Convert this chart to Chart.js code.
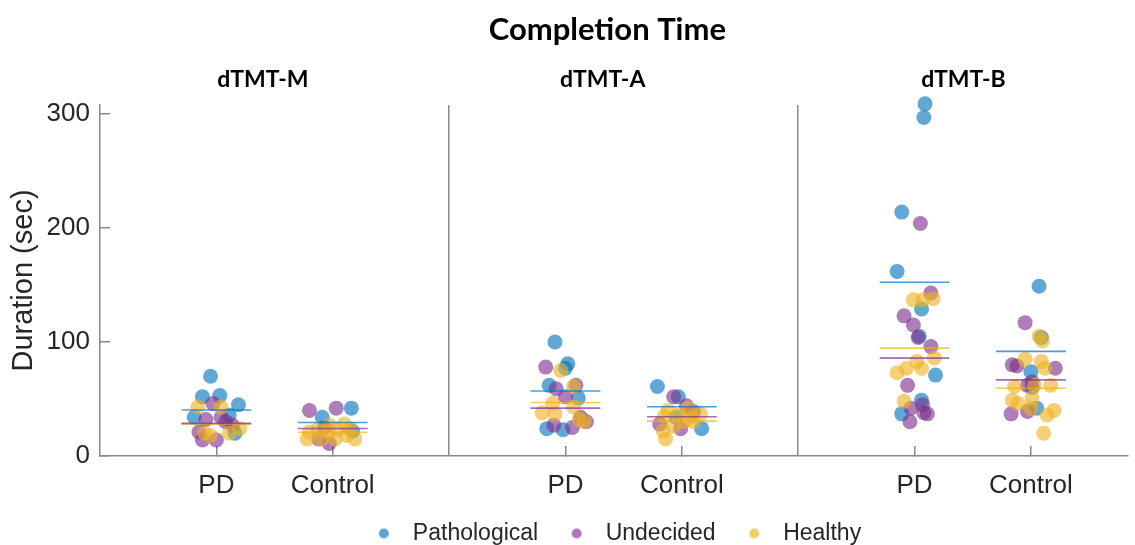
<!DOCTYPE html>
<html>
<head>
<meta charset="utf-8">
<script src="https://cdn.jsdelivr.net/npm/chart.js@4/dist/chart.umd.min.js"></script>
<style>
  body { margin: 0; background: #fff; }
  canvas { display: block; }
</style>
</head>
<body>
<canvas id="chart" width="1135" height="545"></canvas>
<script>
// task panels and the two groups inside each
const panels = ['dTMT-M', 'dTMT-A', 'dTMT-B'];
const groups = ['PD', 'Control'];
const classes = ['Pathological', 'Undecided', 'Healthy'];
const mainTitle = 'Completion Time';

// x slot of each group (panel separators sit on 3 and 6)
const groupX = [1, 2, 4, 5, 7, 8];
const xTickValues = [1, 2, 3, 4, 5, 6, 7, 8];
const xTickLabels = ['PD', 'Control', '', 'PD', 'Control', '', 'PD', 'Control'];
const yTickValues = [0, 100, 200, 300];

// [jitter, seconds] per subject
const mPdPath = [[-0.05, 70], [-0.12, 52], [0.03, 53], [0.19, 45], [-0.19, 34], [0.11, 36], [0.16, 20]];
const mPdUnd = [[-0.03, 46], [-0.09, 32], [0.04, 34], [-0.15, 21], [-0.12, 14], [0, 14], [0.14, 27], [0.08, 30]];
const mPdHea = [[-0.16, 43], [0.04, 43], [-0.10, 20], [0.11, 20], [0.2, 24], [-0.05, 18]];
const mCtlPath = [[-0.09, 34], [0.16, 42], [0.17, 22]];
const mCtlUnd = [[-0.2, 40], [0.03, 42], [-0.07, 25], [-0.03, 11], [-0.12, 15]];
const mCtlHea = [[-0.2, 21], [-0.22, 15], [-0.13, 23], [-0.04, 21], [0.04, 23], [0.1, 28], [0.12, 18],
                 [0.02, 15], [0.19, 15], [-0.1, 15], [-0.03, 27], [0.15, 24]];

const aPdPath = [[-0.09, 100], [0.02, 81], [0, 77], [-0.14, 62], [0.11, 51], [-0.16, 24], [-0.02, 23]];
const aPdUnd = [[-0.17, 78], [-0.08, 59], [0.09, 62], [0, 52], [-0.1, 27], [0.06, 25], [0.18, 30], [0.13, 34]];
const aPdHea = [[-0.04, 75], [0.07, 61], [-0.11, 46], [-0.2, 38], [-0.09, 37], [0.07, 43], [0.12, 32], [0.16, 30]];
const aCtlPath = [[-0.21, 61], [-0.03, 52], [0.17, 24], [-0.05, 34]];
const aCtlUnd = [[-0.07, 52], [0.1, 39], [-0.19, 28], [-0.01, 24], [0.04, 44]];
const aCtlHea = [[-0.12, 40], [0.05, 42], [0.16, 37], [-0.16, 22], [-0.14, 15], [-0.07, 26], [0.02, 30],
                 [0.1, 30], [-0.03, 36], [-0.15, 35], [0.08, 34]];

const bPdPath = [[0.09, 309], [0.08, 297], [-0.11, 214], [-0.15, 162], [0.06, 129], [0.04, 105], [0.18, 71], [0.06, 49], [-0.11, 37]];
const bPdUnd = [[0.05, 204], [0.14, 143], [-0.09, 123], [-0.01, 115], [0.03, 104], [0.14, 96], [-0.06, 62],
                [-0.03, 42], [0.07, 45], [0.11, 37], [-0.04, 30], [0.08, 38]];
const bPdHea = [[-0.01, 137], [0.07, 137], [0.16, 138], [0.02, 83], [-0.07, 77], [-0.15, 73], [0.06, 77], [0.17, 86], [-0.09, 48]];
const bCtlPath = [[0.07, 149], [0.09, 104], [0, 74], [0.01, 60], [0.05, 42]];
const bCtlUnd = [[-0.05, 117], [-0.16, 80], [-0.12, 79], [0.21, 77], [0.01, 65], [-0.03, 62], [-0.17, 37], [-0.03, 39]];
const bCtlHea = [[0.07, 105], [0.1, 101], [-0.05, 85], [0.09, 83], [0.12, 77], [0.03, 62], [-0.14, 61], [0.17, 62],
                 [-0.16, 49], [-0.11, 46], [0.01, 51], [0, 42], [0.2, 40], [0.14, 36], [0.11, 20]];

// group means, same order as groupX
const meanPath = [40.3, 29.4, 57.1, 43.2, 152.4, 91.8];
const meanUnd = [28.6, 24.1, 42, 34.4, 85.9, 66.8];
const meanHea = [28, 20.9, 47, 30.6, 94.7, 59.4];

// x positions of the headings (main title, then one per panel)
const mainTitleAt = 4.36;
const panelTitleAt = [1.4, 4.32, 7.42];

const classData = [
  [mPdPath, mCtlPath, aPdPath, aCtlPath, bPdPath, bCtlPath],
  [mPdUnd, mCtlUnd, aPdUnd, aCtlUnd, bPdUnd, bCtlUnd],
  [mPdHea, mCtlHea, aPdHea, aCtlHea, bPdHea, bCtlHea]
];
const classMeans = [meanPath, meanUnd, meanHea];

const rgb = ['0, 114, 189', '126, 47, 142', '237, 177, 32'];
const axisGrey = '#8a8a8a';
const textCol = '#262626';
const sans = "'Liberation Sans', Arial, sans-serif";
const headFont = "Lato, 'Open Sans', sans-serif";

function points(sets) {
  const out = [];
  sets.forEach((set, g) => set.forEach(([j, v]) => out.push({ x: groupX[g] + j, y: v })));
  return out;
}

function meanSegments(means) {
  const out = [];
  means.forEach((m, g) => {
    out.push({ x: groupX[g] - 0.3, y: m }, { x: groupX[g] + 0.3, y: m }, { x: groupX[g] + 0.4, y: null });
  });
  return out;
}

function legendDot(c) {
  const cv = document.createElement('canvas');
  cv.width = 12; cv.height = 12;
  const g = cv.getContext('2d');
  g.fillStyle = 'rgba(' + c + ', 0.65)';
  g.beginPath(); g.arc(6, 6, 5, 0, Math.PI * 2); g.fill();
  return cv;
}

const datasets = [];
classes.forEach((name, i) => {
  datasets.push({
    label: name,
    data: points(classData[i]),
    backgroundColor: 'rgba(' + rgb[i] + ', 0.62)',
    borderWidth: 0,
    pointRadius: 7.5,
    pointHoverRadius: 7.5,
    clip: false,
    order: 3 - i
  });
});
classes.forEach((name, i) => {
  datasets.push({
    label: name + ' mean',
    data: meanSegments(classMeans[i]),
    showLine: true,
    borderColor: 'rgba(' + rgb[i] + ', 0.7)',
    borderWidth: 1.6,
    pointRadius: 0,
    spanGaps: false,
    order: 0
  });
});

// figure title and the three panel headings
const headings = {
  id: 'headings',
  afterDraw(chart) {
    const ctx = chart.ctx;
    const xs = chart.scales.x;
    ctx.save();
    ctx.fillStyle = '#000';
    ctx.textAlign = 'center';
    ctx.textBaseline = 'middle';
    ctx.font = 'bold 31px ' + headFont;
    ctx.fillText(mainTitle, xs.getPixelForValue(mainTitleAt), 30);
    ctx.font = 'bold 23px ' + headFont;
    panels.forEach((p, i) => ctx.fillText(p, xs.getPixelForValue(panelTitleAt[i]), 80));
    ctx.restore();
  }
};

new Chart(document.getElementById('chart'), {
  type: 'scatter',
  data: { datasets },
  plugins: [headings],
  options: {
    responsive: false,
    animation: false,
    layout: { padding: { top: 105, left: 0, right: 0, bottom: -10 } },
    plugins: {
      title: { display: false },
      legend: {
        position: 'bottom',
        fullSize: false,
        labels: {
          usePointStyle: true,
          pointStyleWidth: 35,
          padding: 21,
          color: textCol,
          font: { family: sans, size: 23 },
          generateLabels: () => classes.map((name, i) => ({
            text: name,
            pointStyle: legendDot(rgb[i]),
            fillStyle: 'rgba(' + rgb[i] + ', 0.65)',
            strokeStyle: 'transparent',
            lineWidth: 0,
            fontColor: textCol,
            hidden: false,
            datasetIndex: i
          }))
        }
      },
      tooltip: { enabled: false }
    },
    scales: {
      x: {
        type: 'linear',
        min: 0,
        max: 8.83,
        afterBuildTicks: s => { s.ticks = xTickValues.map(v => ({ value: v })); },
        afterFit: s => { s.height = 45; s.paddingLeft = 0; s.paddingRight = 0; },
        ticks: {
          autoSkip: false,
          maxRotation: 0,
          padding: 24,
          color: textCol,
          font: { family: sans, size: 26 },
          callback: (v, i) => xTickLabels[i]
        },
        grid: {
          color: c => (c.tick && (c.tick.value === 3 || c.tick.value === 6)) ? axisGrey : 'rgba(0,0,0,0)',
          tickColor: c => (c.tick && (c.tick.value === 3 || c.tick.value === 6)) ? 'rgba(0,0,0,0)' : axisGrey,
          lineWidth: 1.5,
          tickLength: -10
        },
        border: { color: axisGrey, width: 1.5 }
      },
      y: {
        min: 0,
        max: 308,
        afterBuildTicks: s => { s.ticks = yTickValues.map(v => ({ value: v })); },
        afterFit: s => { s.width = 100; },
        ticks: {
          padding: 20,
          color: textCol,
          font: { family: sans, size: 26 }
        },
        grid: {
          drawOnChartArea: false,
          tickColor: axisGrey,
          lineWidth: 1.5,
          tickLength: -10
        },
        border: { color: axisGrey, width: 1.5 },
        title: {
          display: true,
          text: 'Duration (sec)',
          color: textCol,
          font: { family: sans, size: 29 },
          padding: { top: 7, bottom: 5 }
        }
      }
    }
  }
});
</script>
</body>
</html>
